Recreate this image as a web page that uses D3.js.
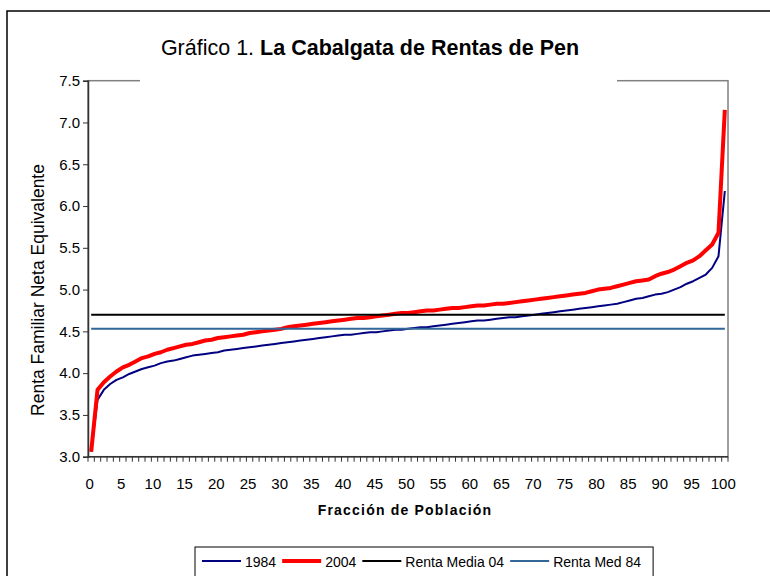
<!DOCTYPE html>
<html><head><meta charset="utf-8">
<script src="https://cdn.jsdelivr.net/npm/d3@7"></script>
<style>
body{margin:0;background:#fff;}
text{font-family:Arial,"Liberation Sans",sans-serif;}
</style></head>
<body><svg id="c" width="770" height="576"></svg>
<script>
// ---- data ----
const categories = d3.range(0, 101);
const xTickLabels = [0,5,10,15,20,25,30,35,40,45,50,55,60,65,70,75,80,85,90,95,100];
const yTicks = [3.0,3.5,4.0,4.5,5.0,5.5,6.0,6.5,7.0,7.5];
const renta1984 = [3.06,3.68,3.80,3.87,3.92,3.95,3.99,4.02,4.05,4.07,
 4.09,4.12,4.14,4.15,4.17,4.19,4.21,4.22,4.23,4.24,
 4.25,4.27,4.28,4.29,4.30,4.31,4.32,4.33,4.34,4.35,
 4.36,4.37,4.38,4.39,4.40,4.41,4.42,4.43,4.44,4.45,
 4.46,4.46,4.47,4.48,4.49,4.49,4.50,4.51,4.52,4.52,
 4.53,4.54,4.55,4.55,4.56,4.57,4.58,4.59,4.60,4.61,
 4.62,4.63,4.63,4.64,4.65,4.66,4.67,4.67,4.68,4.69,
 4.70,4.71,4.72,4.73,4.74,4.75,4.76,4.77,4.78,4.79,
 4.80,4.81,4.82,4.83,4.85,4.87,4.89,4.90,4.92,4.94,
 4.95,4.97,5.00,5.03,5.07,5.10,5.14,5.18,5.26,5.40,
 6.18];
const renta2004 = [3.06,3.80,3.89,3.96,4.02,4.07,4.10,4.14,4.18,4.20,
 4.23,4.25,4.28,4.30,4.32,4.34,4.35,4.37,4.39,4.40,
 4.42,4.43,4.44,4.45,4.46,4.48,4.49,4.50,4.51,4.52,
 4.53,4.55,4.56,4.57,4.58,4.59,4.60,4.61,4.62,4.63,
 4.64,4.65,4.66,4.66,4.67,4.68,4.69,4.70,4.71,4.72,
 4.72,4.73,4.74,4.75,4.75,4.76,4.77,4.78,4.78,4.79,
 4.80,4.81,4.81,4.82,4.83,4.83,4.84,4.85,4.86,4.87,
 4.88,4.89,4.90,4.91,4.92,4.93,4.94,4.95,4.96,4.98,
 5.00,5.01,5.02,5.04,5.06,5.08,5.10,5.11,5.12,5.16,
 5.19,5.21,5.24,5.28,5.32,5.35,5.40,5.47,5.54,5.68,
 7.15];
const rentaMedia04 = 4.70;
const rentaMedia84 = 4.53;
const seriesNames = ["1984","2004","Renta Media 04","Renta Med 84"];
const seriesColors = ["#000080","#ff0000","#000000","#336699"];
const seriesWidths = [2,4,2,2];

// ---- layout ----
const svg = d3.select("#c");
const L=88, R=728, T=80.7, B=456.7;
const x = d3.scaleBand().domain(categories).range([L,R]).padding(0);
const y = d3.scaleLinear().domain([3,7.5]).range([B,T]);
const cx = c => x(c) + x.bandwidth()/2;

// outer frame
svg.append("rect").attr("x",7).attr("y",11).attr("width",800).attr("height",600)
  .attr("fill","#fff").attr("stroke","#000").attr("stroke-width",1.5);

// plot area border (gray)
svg.append("rect").attr("x",L).attr("y",T).attr("width",R-L).attr("height",B-T)
  .attr("fill","#fff").attr("stroke","#808080").attr("stroke-width",1.5);

// series
const seriesData = [
  categories.map((c,i)=>[c,renta1984[i]]),
  categories.map((c,i)=>[c,renta2004[i]]),
  categories.map(c=>[c,rentaMedia04]),
  categories.map(c=>[c,rentaMedia84])
];
const line = d3.line().x(d=>cx(d[0])).y(d=>y(d[1]));
seriesData.forEach((s,k)=>{
  svg.append("path").datum(s).attr("d",line).attr("fill","none")
    .attr("stroke",seriesColors[k]).attr("stroke-width",seriesWidths[k])
    .attr("stroke-linejoin","round");
});

// y axis
const yAxis = svg.append("g").attr("transform",`translate(${L},0)`)
  .call(d3.axisLeft(y).tickValues(yTicks).tickFormat(d3.format(".1f")).tickSize(5).tickPadding(3));
yAxis.select(".domain").attr("stroke","#333").attr("stroke-width",1.5);
yAxis.selectAll(".tick line").attr("stroke","#333");
yAxis.selectAll("text").attr("font-size",15).attr("fill","#000").style("font-family","Arial, 'Liberation Sans', sans-serif");

// x axis
const xg = svg.append("g");
xg.append("line").attr("x1",L).attr("x2",R).attr("y1",B).attr("y2",B)
  .attr("stroke","#333").attr("stroke-width",1.5);
const bounds = categories.map(c=>x(c)).concat([x.range()[1]]);
xg.selectAll("line.t").data(bounds).join("line").attr("class","t")
  .attr("x1",d=>d).attr("x2",d=>d).attr("y1",B).attr("y2",B+5)
  .attr("stroke","#333").attr("stroke-width",1);
xg.selectAll("text").data(xTickLabels).join("text")
  .attr("x",d=>x(d)+x.bandwidth()*0.25).attr("y",489).attr("text-anchor","middle")
  .attr("font-size",15).text(d=>d);

// axis titles
svg.append("text").attr("x",405).attr("y",515).attr("text-anchor","middle")
  .attr("font-size",14).attr("font-weight","bold").attr("letter-spacing",1.2)
  .text("Fracción de Población");
svg.append("text").attr("transform","translate(44,290) rotate(-90)")
  .attr("text-anchor","middle").attr("font-size",17.5).text("Renta Familiar Neta Equivalente");

// title (white background covering plot top border)
svg.append("rect").attr("x",140).attr("y",28).attr("width",477).attr("height",54).attr("fill","#fff");
const title = svg.append("text").attr("x",370).attr("y",55).attr("text-anchor","middle").attr("font-size",21.5);
title.append("tspan").text("Gráfico 1. ");
title.append("tspan").attr("font-weight","bold").text("La Cabalgata de Rentas de Pen");

// legend
const lg = svg.append("g");
const box = lg.append("rect").attr("x",195).attr("y",547).attr("height",40)
  .attr("fill","#fff").attr("stroke","#000").attr("stroke-width",1);
let px = 202;
seriesNames.forEach((n,k)=>{
  lg.append("line").attr("x1",px).attr("x2",px+39).attr("y1",561).attr("y2",561)
    .attr("stroke",seriesColors[k]).attr("stroke-width",seriesWidths[k]);
  const t = lg.append("text").attr("x",px+43).attr("y",566.5).attr("font-size",14).text(n);
  px = px + 43 + t.node().getComputedTextLength() + 6;
});
box.attr("width", px + 6 - 195);
</script></body></html>
